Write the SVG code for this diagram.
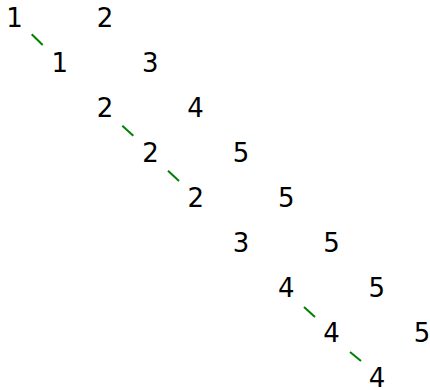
<svg xmlns="http://www.w3.org/2000/svg" width="430" height="390" viewBox="0 0 430 390">
<style>
text{font-family:"DejaVu Sans","Liberation Sans",sans-serif;font-size:26px;fill:#000;text-anchor:middle}
line{stroke:#008000;stroke-width:2}
</style>
<rect width="430" height="390" fill="#fff"/>
<g id="connectors">
<line x1="31.7" y1="34.3" x2="42.7" y2="45"/>
<line x1="122.3" y1="125.7" x2="133.3" y2="135.7"/>
<line x1="168" y1="170.7" x2="179" y2="181"/>
<line x1="304" y1="307" x2="315" y2="317"/>
<line x1="350" y1="352" x2="361" y2="361"/>
</g>
<g id="n0a"><text x="14.5" y="26.5">1</text></g>
<g id="n0b"><text x="105" y="26.5">2</text></g>
<g id="n1a"><text x="59.8" y="71.6">1</text></g>
<g id="n1b"><text x="150.3" y="71.6">3</text></g>
<g id="n2a"><text x="105.1" y="116.7">2</text></g>
<g id="n2b"><text x="195.6" y="116.7">4</text></g>
<g id="n3a"><text x="150.4" y="161.8">2</text></g>
<g id="n3b"><text x="240.9" y="161.8">5</text></g>
<g id="n4a"><text x="195.7" y="206.9">2</text></g>
<g id="n4b"><text x="286.2" y="206.9">5</text></g>
<g id="n5a"><text x="241" y="252">3</text></g>
<g id="n5b"><text x="331.5" y="252">5</text></g>
<g id="n6a"><text x="286.3" y="297.1">4</text></g>
<g id="n6b"><text x="376.8" y="297.1">5</text></g>
<g id="n7a"><text x="331.6" y="342.2">4</text></g>
<g id="n7b"><text x="422.1" y="342.2">5</text></g>
<g id="n8a"><text x="376.9" y="387.3">4</text></g>
</svg>
